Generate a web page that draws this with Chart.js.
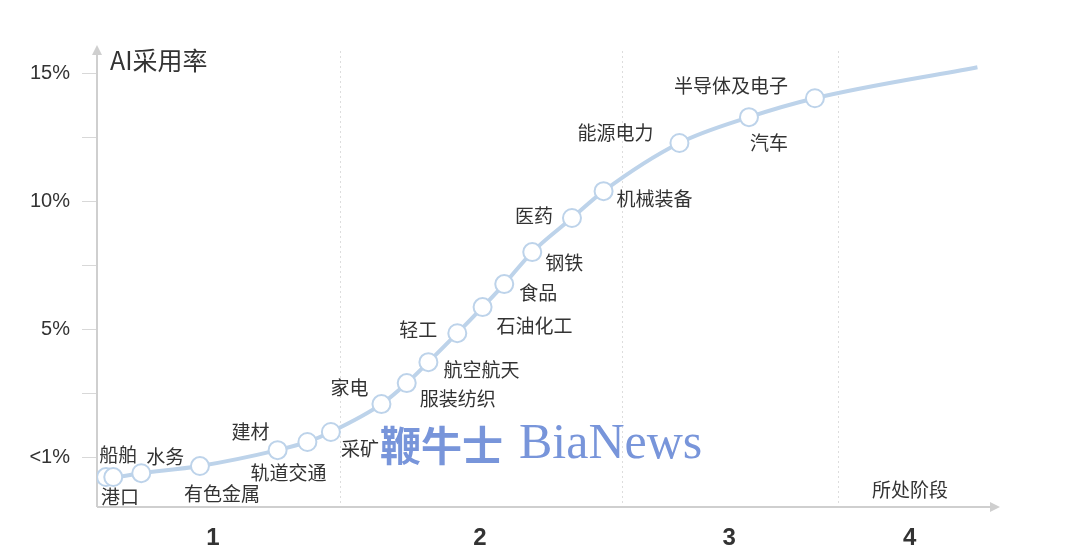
<!DOCTYPE html>
<html>
<head>
<meta charset="utf-8">
<script src="https://cdn.jsdelivr.net/npm/chart.js@4/dist/chart.umd.min.js"></script>
<style>
  body { margin: 0; background: #fff; }
  #wrap { width: 1080px; height: 558px; }
</style>
</head>
<body>
<div id="wrap"><canvas id="adoptChart"></canvas></div>
<script>
// ================================
// DATA
// ================================

// industries along the adoption curve (left to right)
let industries = ["港口", "船舶", "水务", "有色金属", "建材", "轨道交通", "采矿", "家电", "服装纺织",
  "航空航天", "轻工", "石油化工", "食品", "钢铁", "医药", "机械装备", "能源电力", "汽车", "半导体及电子"];

// position along the stage axis (0-100) and AI adoption rate (%)
let progress = [1.0, 1.8, 4.9, 11.4, 20.0, 23.3, 25.9, 31.5, 34.3, 36.7, 39.9, 42.7, 45.1, 48.2, 52.6, 56.1, 64.5, 72.2, 79.5];
let adoption = [-0.78, -0.78, -0.63, -0.35, 0.27, 0.59, 0.98, 2.07, 2.89, 3.71, 4.84, 5.86, 6.76, 8.01, 9.34, 10.39, 12.27, 13.28, 14.02];

// tail of the curve after the last industry
let tailProgress = 97.5;
let tailAdoption = 15.23;

// stages
let stageLabels = ["1", "2", "3", "4"];
let stageCenters = [12.85, 42.4, 70.0, 90.0];
let stageBounds = [26.9, 58.1, 82.1];

// y axis ticks
let yTickValues = [0, 2.5, 5, 7.5, 10, 12.5, 15];
let yTickLabels = ["<1%", "", "5%", "", "10%", "", "15%"];

// label placement around each point: [dx, dy] in px
let labelOffsets = [[14, 20], [5, -22], [24, -16], [22, 28], [-27, -18], [-19, 31], [29, 17], [-32, -16], [51, 16],
  [53, 8], [-39, -3], [52, 19], [34, 9], [32, 11], [-38, -2], [51, 8], [-64, -10], [20, 26], [-84, -12]];

// ================================
// CHART
// ================================

let lineColor = "#bdd3ea";
let axisColor = "#cfcfcf";
let textColor = "#333333";
let cjkFont = "'Noto Sans CJK SC', 'Noto Sans', sans-serif";

let curveData = progress.map((x, i) => ({ x: x, y: adoption[i] }));
curveData.push({ x: tailProgress, y: tailAdoption });
let pointData = progress.map((x, i) => ({ x: x, y: adoption[i] }));

// axes with arrows, stage dividers, point labels, title, watermark
let decorPlugin = {
  id: "decor",
  beforeDatasetsDraw(chart) {
    let c = chart.ctx;
    let xs = chart.scales.x;
    let area = chart.chartArea;

    // stage dividers
    c.save();
    c.strokeStyle = "#dddddd";
    c.lineWidth = 1;
    c.setLineDash([2, 3]);
    stageBounds.forEach(b => {
      let px = Math.round(xs.getPixelForValue(b)) + 0.5;
      c.beginPath();
      c.moveTo(px, area.top + 6);
      c.lineTo(px, area.bottom);
      c.stroke();
    });
    c.restore();

    // axes
    c.save();
    c.strokeStyle = axisColor;
    c.fillStyle = axisColor;
    c.lineWidth = 2;
    c.beginPath();
    c.moveTo(area.left, area.bottom);
    c.lineTo(area.left, area.top + 6);
    c.moveTo(area.left, area.bottom);
    c.lineTo(area.right - 6, area.bottom);
    c.stroke();
    c.beginPath();
    c.moveTo(area.left, area.top);
    c.lineTo(area.left - 5, area.top + 10);
    c.lineTo(area.left + 5, area.top + 10);
    c.closePath();
    c.fill();
    c.beginPath();
    c.moveTo(area.right, area.bottom);
    c.lineTo(area.right - 10, area.bottom - 5);
    c.lineTo(area.right - 10, area.bottom + 5);
    c.closePath();
    c.fill();
    c.restore();
  },
  afterDatasetsDraw(chart) {
    let c = chart.ctx;
    let xs = chart.scales.x, ys = chart.scales.y;
    let area = chart.chartArea;

    c.save();
    c.fillStyle = textColor;
    c.textAlign = "center";
    c.textBaseline = "middle";
    c.font = "19px " + cjkFont;
    industries.forEach((name, i) => {
      let px = xs.getPixelForValue(progress[i]);
      let py = ys.getPixelForValue(adoption[i]);
      c.fillText(name, px + labelOffsets[i][0], py + labelOffsets[i][1]);
    });

    // axis titles
    c.textAlign = "left";
    c.font = "25px " + cjkFont;
    c.fillText("AI采用率", area.left + 13, area.top + 15);
    c.font = "19px " + cjkFont;
    c.fillText("所处阶段", 872, area.bottom - 17);

    // watermark
    c.fillStyle = "#7895da";
    c.font = "bold 41px 'Noto Sans CJK SC', serif";
    c.fillText("鞭牛士", 380, 445);
    c.font = "50px 'Liberation Serif', 'DejaVu Serif', serif";
    c.fillText("BiaNews", 519, 445);
    c.restore();
  }
};

let ctx = document.getElementById("adoptChart").getContext("2d");

let adoptChart = new Chart(ctx, {
  type: "scatter",
  data: {
    datasets: [
      {
        label: "curve",
        data: curveData,
        showLine: true,
        borderColor: lineColor,
        borderWidth: 4,
        pointRadius: 0,
        cubicInterpolationMode: "monotone",
        order: 2
      },
      {
        label: "industries",
        data: pointData,
        showLine: false,
        pointRadius: 9,
        pointBorderWidth: 2,
        pointBackgroundColor: "#ffffff",
        pointBorderColor: lineColor,
        order: 1
      }
    ]
  },
  options: {
    responsive: true,
    maintainAspectRatio: false,
    animation: false,
    layout: { padding: { top: 45, right: 80, left: 0, bottom: 0 } },
    plugins: {
      legend: { display: false },
      tooltip: { enabled: false }
    },
    scales: {
      x: {
        type: "linear",
        min: 0,
        max: 100,
        border: { display: false },
        grid: { display: false },
        afterBuildTicks(scale) {
          scale.ticks = stageCenters.map(v => ({ value: v }));
        },
        afterFit(scale) { scale.height = 51; },
        ticks: {
          padding: 9,
          color: textColor,
          font: { size: 24, weight: "bold", family: "'Liberation Sans', Arial, sans-serif" },
          callback: (v, i) => stageLabels[i]
        }
      },
      y: {
        type: "linear",
        min: -1.95,
        max: 16.1,
        border: { display: false },
        grid: {
          drawOnChartArea: false,
          drawTicks: true,
          tickLength: 15,
          color: "#d8d8d8"
        },
        afterBuildTicks(scale) {
          scale.ticks = yTickValues.map(v => ({ value: v }));
        },
        afterFit(scale) { scale.width = 97; },
        ticks: {
          padding: 12,
          color: textColor,
          font: { size: 20, family: "'Liberation Sans', Arial, sans-serif" },
          callback: (v, i) => yTickLabels[i]
        }
      }
    }
  },
  plugins: [decorPlugin]
});
</script>
</body>
</html>
